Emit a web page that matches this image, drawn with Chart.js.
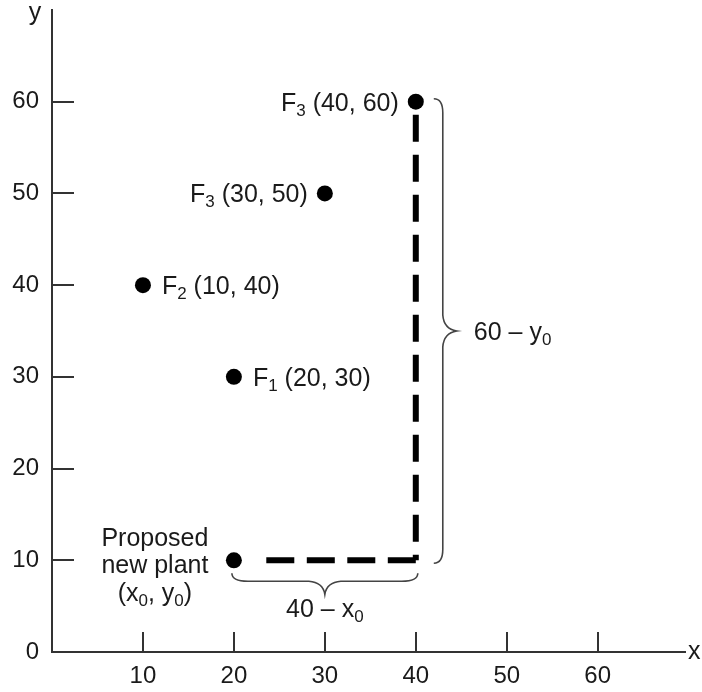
<!DOCTYPE html>
<html>
<head>
<meta charset="utf-8">
<script src="https://cdn.jsdelivr.net/npm/chart.js@4.4.1/dist/chart.umd.min.js"></script>
<style>
  html, body { margin: 0; padding: 0; background: #fff; }
  #wrap { width: 702px; height: 692px; position: relative; }
</style>
</head>
<body>
<div id="wrap"><canvas id="c"></canvas></div>
<script>
// ---- data ----
const facilityX = [40, 30, 10, 20];
const facilityY = [60, 50, 40, 30];
const facilitySub = ['3', '3', '2', '1'];
const plantX = [20];
const plantY = [10];
const plantLabel = ['Proposed', 'new plant'];
const xTickValues = [10, 20, 30, 40, 50, 60];
const yTickValues = [0, 10, 20, 30, 40, 50, 60];
const axisNames = ['x', 'y'];

// ---- styles ----
const FONT = '"Liberation Sans", Arial, sans-serif';
const TEXT = '#1a1a1a';
const AXIS = '#333333';
const labelSide = ['left', 'left', 'right', 'right']; // text placed left/right of the dot

function drawRich(ctx, parts, x, y, align, size) {
  const main = size + 'px ' + FONT;
  const sub = Math.round(size * 0.66) + 'px ' + FONT;
  let w = 0;
  const ws = parts.map(p => { ctx.font = p[1] ? sub : main; const m = ctx.measureText(p[0]).width; w += m; return m; });
  let cx = align === 'right' ? x - w : (align === 'center' ? x - w / 2 : x);
  ctx.textAlign = 'left';
  ctx.textBaseline = 'alphabetic';
  parts.forEach((p, i) => {
    ctx.font = p[1] ? sub : main;
    ctx.fillText(p[0], cx, p[1] ? y + 5 : y);
    cx += ws[i];
  });
}

function braceV(ctx, x, y1, y2) {
  const xb = x + 9, xt = x + 23, ym = (y1 + y2) / 2;
  ctx.beginPath();
  ctx.moveTo(x, y1);
  ctx.quadraticCurveTo(xb, y1, xb, y1 + 14);
  ctx.lineTo(xb, ym - 16);
  ctx.quadraticCurveTo(xb + 1, ym - 2, xt, ym);
  ctx.quadraticCurveTo(xb + 1, ym + 2, xb, ym + 16);
  ctx.lineTo(xb, y2 - 14);
  ctx.quadraticCurveTo(xb, y2, x, y2);
  ctx.stroke();
}
function braceH(ctx, x1, x2, y) {
  const yb = y + 8, yt = y + 21, xm = (x1 + x2) / 2;
  ctx.beginPath();
  ctx.moveTo(x1, y);
  ctx.quadraticCurveTo(x1, yb, x1 + 16, yb);
  ctx.lineTo(xm - 16, yb);
  ctx.quadraticCurveTo(xm - 2, yb + 1, xm, yt);
  ctx.quadraticCurveTo(xm + 2, yb + 1, xm + 16, yb);
  ctx.lineTo(x2 - 16, yb);
  ctx.quadraticCurveTo(x2, yb, x2, y);
  ctx.stroke();
}

const annot = {
  id: 'annot',
  afterDraw(chart) {
    const ctx = chart.ctx;
    const xs = chart.scales.x, ys = chart.scales.y;
    const area = chart.chartArea;
    ctx.save();
    // inward tick marks
    ctx.strokeStyle = AXIS;
    ctx.lineWidth = 2;
    ctx.beginPath();
    yTickValues.filter(v => v > 0).forEach(v => {
      const py = Math.round(ys.getPixelForValue(v));
      ctx.moveTo(area.left, py); ctx.lineTo(area.left + 22, py);
    });
    xTickValues.forEach(v => {
      const px = Math.round(xs.getPixelForValue(v));
      ctx.moveTo(px, area.bottom); ctx.lineTo(px, area.bottom - 20);
    });
    ctx.stroke();

    ctx.fillStyle = TEXT;
    // axis names
    ctx.font = '25px ' + FONT;
    ctx.textBaseline = 'alphabetic';
    ctx.textAlign = 'left';
    ctx.fillText(axisNames[0], area.right + 3, area.bottom + 7);
    ctx.textAlign = 'center';
    ctx.fillText(axisNames[1], area.left - 17, area.top + 10);

    // facility labels
    facilityX.forEach((fx, i) => {
      const px = xs.getPixelForValue(fx), py = ys.getPixelForValue(facilityY[i]);
      const parts = [['F', false], [facilitySub[i], true], [' (' + fx + ', ' + facilityY[i] + ')', false]];
      if (labelSide[i] === 'left') drawRich(ctx, parts, px - 17, py + 9, 'right', 25);
      else drawRich(ctx, parts, px + 19, py + 9, 'left', 25);
    });

    // plant label
    const ppx = xs.getPixelForValue(plantX[0]), ppy = ys.getPixelForValue(plantY[0]);
    const cxL = ppx - 79;
    drawRich(ctx, [[plantLabel[0], false]], cxL, ppy - 14, 'center', 25);
    drawRich(ctx, [[plantLabel[1], false]], cxL, ppy + 13, 'center', 25);
    drawRich(ctx, [['(x', false], ['0', true], [', y', false], ['0', true], [')', false]], cxL, ppy + 41, 'center', 25);

    // braces
    const fpx = xs.getPixelForValue(facilityX[0]), fpy = ys.getPixelForValue(facilityY[0]);
    ctx.strokeStyle = '#444';
    ctx.lineWidth = 1.6;
    braceV(ctx, fpx + 18, fpy - 3, ppy + 3);
    braceH(ctx, ppx - 2, fpx + 2, ppy + 13);
    drawRich(ctx, [[facilityY[0] + ' \u2013 y', false], ['0', true]], fpx + 58, (fpy + ppy) / 2 + 9, 'left', 25);
    drawRich(ctx, [[facilityX[0] + ' \u2013 x', false], ['0', true]], (ppx + fpx) / 2, ppy + 57, 'center', 25);
    ctx.restore();
  }
};

const corner = { x: facilityX[0], y: plantY[0] };

new Chart(document.getElementById('c'), {
  type: 'scatter',
  data: {
    datasets: [
      {
        label: 'points',
        data: facilityX.map((x, i) => ({ x, y: facilityY[i] })).concat(plantX.map((x, i) => ({ x, y: plantY[i] }))),
        pointRadius: 8,
        pointBackgroundColor: '#000',
        pointBorderColor: '#000',
        pointBorderWidth: 0,
        showLine: false
      },
      {
        label: 'vertical',
        data: [{ x: facilityX[0], y: facilityY[0] }, corner],
        showLine: true,
        pointRadius: 0,
        borderColor: '#000',
        borderWidth: 6,
        borderCapStyle: 'butt',
        borderDash: [27, 13],
        borderDashOffset: 27
      },
      {
        label: 'horizontal',
        data: [corner, { x: plantX[0], y: plantY[0] }],
        showLine: true,
        pointRadius: 0,
        borderColor: '#000',
        borderWidth: 6,
        borderCapStyle: 'butt',
        borderDash: [28, 12.5, 28, 12.5, 28, 12.5, 28, 200],
        borderDashOffset: 0
      }
    ]
  },
  options: {
    responsive: true,
    maintainAspectRatio: false,
    animation: false,
    events: [],
    layout: { padding: { left: 12, right: 17, top: 10, bottom: 0 } },
    plugins: { legend: { display: false }, tooltip: { enabled: false } },
    scales: {
      x: {
        type: 'linear',
        min: 0,
        max: 69.6,
        afterBuildTicks: s => { s.ticks = xTickValues.map(v => ({ value: v })); },
        afterFit: s => { s.height = 40; s.paddingLeft = 0; s.paddingRight = 0; },
        grid: { drawOnChartArea: false, drawTicks: false },
        border: { display: true, color: AXIS, width: 2 },
        ticks: { padding: 10, color: TEXT, font: { family: FONT, size: 24 }, maxRotation: 0, autoSkip: false }
      },
      y: {
        type: 'linear',
        min: 0,
        max: 70,
        afterBuildTicks: s => { s.ticks = yTickValues.map(v => ({ value: v })); },
        afterFit: s => { s.width = 40; s.paddingTop = 0; s.paddingBottom = 0; },
        grid: { drawOnChartArea: false, drawTicks: false },
        border: { display: true, color: AXIS, width: 2 },
        ticks: { padding: 13, color: TEXT, font: { family: FONT, size: 24 }, autoSkip: false }
      }
    }
  },
  plugins: [annot]
});
</script>
</body>
</html>
